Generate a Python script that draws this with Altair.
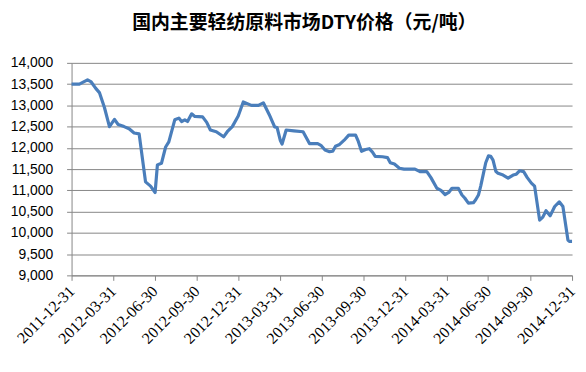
import altair as alt
import pandas as pd

dates = [
    "2011-12-31", "2012-01-17", "2012-02-04", "2012-02-12", "2012-02-22", "2012-03-01",
    "2012-03-12", "2012-03-23", "2012-04-03", "2012-04-11", "2012-04-24", "2012-05-05",
    "2012-05-16", "2012-05-27", "2012-06-10", "2012-06-21", "2012-07-01", "2012-07-06",
    "2012-07-15", "2012-07-24", "2012-07-31", "2012-08-13", "2012-08-22", "2012-08-28",
    "2012-09-04", "2012-09-10", "2012-09-19", "2012-09-26", "2012-10-13", "2012-10-22",
    "2012-10-30", "2012-11-12", "2012-11-28", "2012-12-06", "2012-12-17", "2012-12-30",
    "2013-01-10", "2013-01-28", "2013-02-12", "2013-02-23", "2013-03-08", "2013-03-20",
    "2013-03-25", "2013-04-01", "2013-04-05", "2013-04-14", "2013-05-01", "2013-05-21",
    "2013-06-04", "2013-06-22", "2013-06-29", "2013-07-08", "2013-07-18", "2013-07-25",
    "2013-07-31", "2013-08-09", "2013-08-19", "2013-08-29", "2013-09-13", "2013-09-19",
    "2013-09-26", "2013-10-05", "2013-10-13", "2013-10-20", "2013-10-26", "2013-11-11",
    "2013-11-22", "2013-11-28", "2013-12-07", "2013-12-18", "2013-12-28", "2014-01-21",
    "2014-02-01", "2014-02-16", "2014-02-25", "2014-03-10", "2014-03-19", "2014-03-28",
    "2014-04-05", "2014-04-12", "2014-04-26", "2014-05-04", "2014-05-10", "2014-05-18",
    "2014-05-29", "2014-06-03", "2014-06-09", "2014-06-14", "2014-06-20", "2014-06-25",
    "2014-07-01", "2014-07-06", "2014-07-11", "2014-07-17", "2014-07-22", "2014-08-02",
    "2014-08-13", "2014-08-24", "2014-08-31", "2014-09-07", "2014-09-16", "2014-09-24",
    "2014-10-03", "2014-10-10", "2014-10-21", "2014-10-28", "2014-11-04", "2014-11-13",
    "2014-11-23", "2014-12-03", "2014-12-11", "2014-12-22", "2014-12-25", "2014-12-31",
]
prices = [
    13500, 13500, 13600, 13550, 13400, 13300,
    12950, 12500, 12670, 12550, 12500, 12450,
    12350, 12330, 11200, 11100, 10950, 11600,
    11640, 12020, 12140, 12660, 12700, 12620,
    12660, 12620, 12800, 12740, 12730, 12600,
    12420, 12380, 12260, 12380, 12500, 12750,
    13080, 13000, 13000, 13060, 12780, 12490,
    12480, 12180, 12090, 12420, 12400, 12380,
    12100, 12100, 12060, 11950, 11910, 11920,
    12040, 12080, 12180, 12300, 12300, 12150,
    11920, 11960, 11980, 11900, 11800, 11790,
    11770, 11650, 11620, 11520, 11500, 11500,
    11440, 11440, 11300, 11050, 11000, 10900,
    10950, 11050, 11050, 10890, 10820, 10700,
    10710, 10780, 10890, 11100, 11400, 11650,
    11810, 11800, 11710, 11450, 11400, 11360,
    11290, 11360, 11380, 11460, 11440, 11300,
    11170, 11100, 10300, 10370, 10520, 10400,
    10620, 10730, 10620, 9830, 9800, 9800,
]
tick_dates = [
    (2011, 12, 31), (2012, 3, 31), (2012, 6, 30), (2012, 9, 30), (2012, 12, 31),
    (2013, 3, 31), (2013, 6, 30), (2013, 9, 30), (2013, 12, 31),
    (2014, 3, 31), (2014, 6, 30), (2014, 9, 30), (2014, 12, 31),
]
y_ticks = [9000, 9500, 10000, 10500, 11000, 11500, 12000, 12500, 13000, 13500, 14000]
title_text = "国内主要轻纺原料市场DTY价格（元/吨）"

df = pd.DataFrame({"date": dates, "price": prices})

def dt(t):
    return alt.DateTime(year=t[0], month=t[1], date=t[2], utc=True)

chart = (
    alt.Chart(df)
    .mark_line(color="#4A7EBB", strokeWidth=3.2, strokeJoin="round")
    .encode(
        x=alt.X(
            "date:T",
            scale=alt.Scale(type="utc", domain=[dt(tick_dates[0]), dt(tick_dates[-1])]),
            axis=alt.Axis(
                title=None,
                values=[dt(t) for t in tick_dates],
                format="%Y-%m-%d",
                labelAngle=-45,
                labelAlign="right",
                labelBaseline="middle",
                labelFont="Liberation Serif",
                labelFontSize=16,
                labelColor="#000000",
                labelPadding=8,
                labelOverlap=False,
                labelFlush=False,
                grid=False,
                tickSize=5,
                tickColor="#868686",
                domainColor="#868686",
            ),
        ),
        y=alt.Y(
            "price:Q",
            scale=alt.Scale(domain=[9000, 14000], nice=False, zero=False),
            axis=alt.Axis(
                title=None,
                values=y_ticks,
                format=",d",
                labelFont="Liberation Sans",
                labelFontSize=14,
                labelColor="#000000",
                labelPadding=14,
                tickSize=5,
                tickColor="#868686",
                domainColor="#868686",
                gridColor="#868686",
                gridWidth=1,
            ),
        ),
    )
    .properties(
        width=504,
        height=214,
        autosize=alt.AutoSizeParams(type="none"),
        padding={"left": 64, "top": 54, "right": 6, "bottom": 86},
        title=alt.TitleParams(
            text=title_text,
            font="Noto Sans CJK SC",
            fontSize=19,
            fontWeight="bold",
            anchor="start",
            frame="group",
            dx=61,
            offset=23,
            color="#000000",
        ),
    )
    .configure_view(stroke=None)
)

chart.save("out.html", embed_options={"renderer": "svg", "actions": False})
